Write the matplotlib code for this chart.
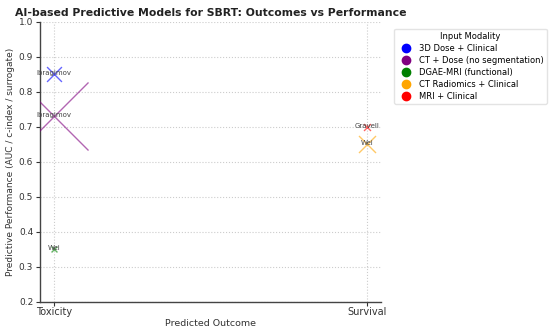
"""SBRT predictive model scatter: outcome vs performance, sized markers by model."""

import matplotlib
matplotlib.use("Agg")
import matplotlib.pyplot as plt
from matplotlib.lines import Line2D

OUTCOMES = ["Toxicity", "Survival"]
STUDIES = ["Ibragimov", "Ibragimov", "Wei", "Gravell", "Wei"]
STUDY_OUTCOME = ["Toxicity", "Toxicity", "Toxicity", "Survival", "Survival"]
PERFORMANCE = [0.85, 0.73, 0.35, 0.70, 0.65]
MODALITY = ["3D Dose + Clinical", "CT + Dose (no segmentation)",
            "DGAE-MRI (functional)", "MRI + Clinical", "CT Radiomics + Clinical"]
MARKER_SIZE = [115, 2400, 18, 25, 150]

LEGEND_ORDER = ["3D Dose + Clinical", "CT + Dose (no segmentation)",
                "DGAE-MRI (functional)", "CT Radiomics + Clinical", "MRI + Clinical"]
COLORS = {
    "3D Dose + Clinical": "blue",
    "CT + Dose (no segmentation)": "purple",
    "DGAE-MRI (functional)": "green",
    "CT Radiomics + Clinical": "orange",
    "MRI + Clinical": "red",
}

fig = plt.figure(figsize=(5.5, 3.31), dpi=100)
ax = fig.add_axes([0.073, 0.088, 0.62, 0.846])

xpos = [OUTCOMES.index(o) for o in STUDY_OUTCOME]
for x, y, s, m, name in zip(xpos, PERFORMANCE, MARKER_SIZE, MODALITY, STUDIES):
    ax.scatter(x, y, s=s, marker="x", color=COLORS[m], alpha=0.6, linewidths=1.0, zorder=3)
    ax.text(x, y - 0.005, name, ha="center", va="bottom", fontsize=5, color="#444444", zorder=4)

ax.set_xticks(range(len(OUTCOMES)))
ax.set_xticklabels(OUTCOMES, fontsize=7)
ax.set_xlim(-0.045, 1.045)
ax.set_ylim(0.2, 1.0)
ax.set_yticks([0.2, 0.3, 0.4, 0.5, 0.6, 0.7, 0.8, 0.9, 1.0])
ax.tick_params(axis="y", labelsize=6.5, length=3, width=0.8, colors="#333333", pad=2)
ax.tick_params(axis="x", length=3, width=0.8, colors="#333333", pad=1)
ax.set_xlabel("Predicted Outcome", fontsize=6.8, color="#333333", labelpad=1)
ax.set_ylabel("Predictive Performance (AUC / c-index / surrogate)", fontsize=6.5,
              color="#333333", labelpad=3)
ax.set_title("AI-based Predictive Models for SBRT: Outcomes vs Performance",
             fontsize=7.8, fontweight="bold", color="#222222", pad=4)

ax.grid(True, linestyle=":", color="#cccccc", linewidth=0.8)
ax.set_axisbelow(True)
for side in ("top", "right"):
    ax.spines[side].set_visible(False)
for side in ("left", "bottom"):
    ax.spines[side].set_color("#444444")
    ax.spines[side].set_linewidth(1.0)

handles = [Line2D([0], [0], marker="o", linestyle="", markersize=6,
                  markerfacecolor=COLORS[m], markeredgecolor=COLORS[m]) for m in LEGEND_ORDER]
leg = ax.legend(handles, LEGEND_ORDER, title="Input Modality", loc="upper left",
                bbox_to_anchor=(1.025, 0.99), fontsize=6, title_fontsize=6,
                frameon=True, edgecolor="#dddddd", handletextpad=0.6, labelspacing=0.35)

fig.savefig("out.png", dpi=100)
plt.close(fig)
